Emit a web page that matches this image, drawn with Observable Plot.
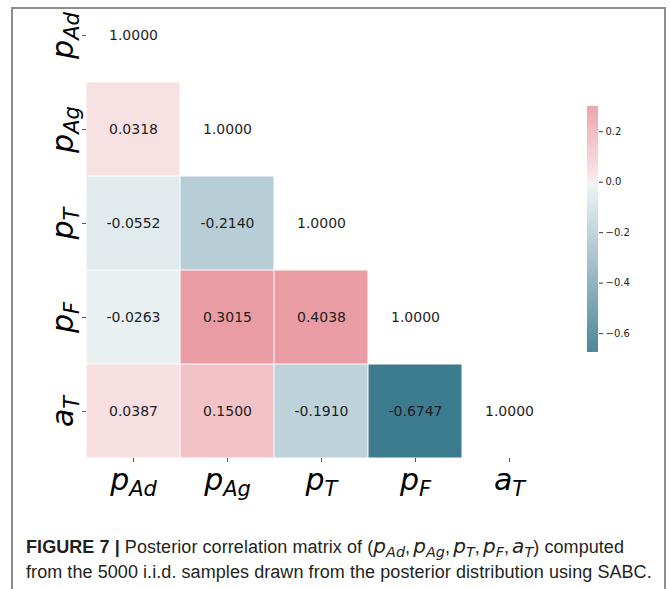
<!DOCTYPE html>
<html>
<head>
<meta charset="utf-8">
<script src="https://cdn.jsdelivr.net/npm/d3@7"></script>
<script src="https://cdn.jsdelivr.net/npm/@observablehq/plot@0.6"></script>
<style>
  html, body { margin: 0; padding: 0; background: #fff; width: 670px; height: 589px; overflow: hidden; position: relative; }
  #frame { position: absolute; left: 11px; top: 7px; width: 655px; height: 640px; border: 2px solid #8d8d8d; box-sizing: border-box; }
  #heat { position: absolute; left: 0; top: -12px; }
  #cbar { position: absolute; left: 587px; top: 96px; }
  #caption { position: absolute; left: 26px; top: 535px; width: 640px; font-family: "Liberation Sans", Arial, sans-serif; font-size: 18px; letter-spacing: 0.07px; line-height: 25px; color: #231f20; white-space: nowrap; }
  #caption sub { font-size: 0.72em; vertical-align: -0.3em; line-height: 0; }
  #caption .m { font-family: "DejaVu Sans", sans-serif; font-style: italic; font-size: 20px; line-height: 0; }
  #caption .c { margin-right: 3px; }
</style>
</head>
<body>
<div id="frame"></div>
<div id="heat"></div>
<div id="cbar"></div>
<div id="caption"><b>FIGURE 7 |</b> Posterior correlation matrix of (<span class="m">p<sub>Ad</sub></span><span class="c">,</span><span class="m">p<sub>Ag</sub></span><span class="c">,</span><span class="m">p<sub>T</sub></span><span class="c">,</span><span class="m">p<sub>F</sub></span><span class="c">,</span><span class="m">a<sub>T</sub></span>) computed<br>from the 5000 i.i.d. samples drawn from the posterior distribution using SABC.</div>
<script>
// ---- data ----
const params = ["p_Ad", "p_Ag", "p_T", "p_F", "a_T"];
const rowPAd = [1.0000];
const rowPAg = [0.0318, 1.0000];
const rowPT  = [-0.0552, -0.2140, 1.0000];
const rowPF  = [-0.0263, 0.3015, 0.4038, 1.0000];
const rowAT  = [0.0387, 0.1500, -0.1910, -0.6747, 1.0000];
const colorLimits = [-0.6747, 0.3];
const colorbarTicks = [0.2, 0.0, -0.2, -0.4, -0.6];

const rows = [rowPAd, rowPAg, rowPT, rowPF, rowAT];
const cells = rows.flatMap((r, i) => r.map((v, j) => ({row: params[i], col: params[j], value: v, diag: i === j})));

// diverging palette: blue -> light blue tint -> grey -> light pink tint -> pink (clamped at vmax)
const eps = 0.003;
const colorScale = {
  type: "linear",
  domain: [colorLimits[0], -eps, 0, eps, colorLimits[1]],
  range: ["#3d7b8f", "#eff4f6", "#f2f2f2", "#f9e8ea", "#ea9ca4"],
  interpolate: "rgb",
  clamp: true
};

const mathFont = "DejaVu Sans, sans-serif";

const heat = Plot.plot({
  width: 600,
  height: 530,
  marginLeft: 86,
  marginRight: 44,
  marginTop: 0,
  marginBottom: 60,
  style: {fontFamily: mathFont, background: "transparent", overflow: "visible"},
  x: {domain: params, padding: 0},
  y: {domain: params, padding: 0},
  color: colorScale,
  marks: [
    Plot.cell(cells.filter(d => !d.diag), {x: "col", y: "row", fill: "value", inset: 0.5}),
    Plot.text(cells, {x: "col", y: "row", text: d => d.value.toFixed(4), fontSize: 14, fill: "#1e1e1e", fontFamily: mathFont}),
    Plot.axisX({anchor: "bottom", tickSize: 4, tickPadding: 6, stroke: "#555", fill: "#000", fontSize: 30, tickFormat: d => d, label: null}),
    Plot.axisY({anchor: "left", tickSize: 4, tickPadding: 10, tickRotate: -90, stroke: "#555", fill: "#000", fontSize: 30, tickFormat: d => d, label: null})
  ]
});
document.getElementById("heat").appendChild(heat);

// turn "p_Ad" labels into italic main letter + subscript
const NS = "http://www.w3.org/2000/svg";
heat.querySelectorAll('g[aria-label$="tick label"] text').forEach(t => {
  const s = t.textContent;
  if (!s.includes("_")) return;
  const [main, sub] = s.split("_");
  t.textContent = "";
  const t1 = document.createElementNS(NS, "tspan");
  t1.setAttribute("font-style", "italic");
  t1.textContent = main;
  const t2 = document.createElementNS(NS, "tspan");
  t2.setAttribute("font-style", "italic");
  t2.setAttribute("font-size", "21");
  t2.setAttribute("dy", "6");
  t2.textContent = sub;
  t.appendChild(t1);
  t.appendChild(t2);
});

const cbStep = 0.002;
const cbValues = d3.range(colorLimits[0], colorLimits[1], cbStep);
const cbar = Plot.plot({
  width: 60,
  height: 266,
  marginLeft: 0,
  marginRight: 49,
  marginTop: 10,
  marginBottom: 10,
  style: {fontFamily: mathFont, background: "transparent", overflow: "visible"},
  x: {domain: [0, 1], axis: null},
  y: {domain: colorLimits},
  color: colorScale,
  marks: [
    Plot.rect(cbValues, {x1: 0, x2: 1, y1: d => d, y2: d => Math.min(d + cbStep * 1.5, colorLimits[1]), fill: d => d}),
    Plot.axisY({anchor: "right", ticks: colorbarTicks, tickFormat: d3.format(".1f"), tickSize: 4, tickPadding: 3, fontSize: 10, stroke: "#333", fill: "#222", label: null})
  ]
});
document.getElementById("cbar").appendChild(cbar);
</script>
</body>
</html>
